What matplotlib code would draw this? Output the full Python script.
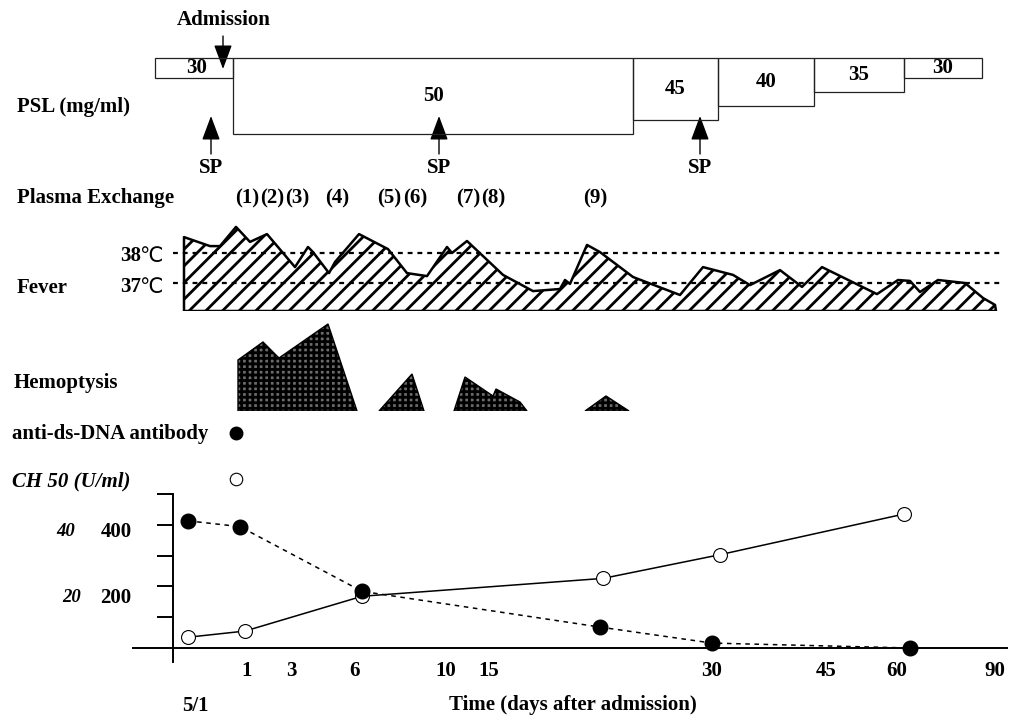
import numpy as np
import matplotlib
matplotlib.use("Agg")
import matplotlib.pyplot as plt

plt.rcParams['font.family'] = ['Liberation Serif', 'DejaVu Sans']
plt.rcParams['font.weight'] = 'bold'
plt.rcParams['hatch.linewidth'] = 2.0

W, H = 1023, 722

# timeline positions (x) are in the schematic's own time units, left to right

# PSL dose blocks
psl_start = [155, 233, 633, 718, 814, 904]
psl_end = [233, 633, 718, 814, 904, 982]
psl_dose = [30, 50, 45, 40, 35, 30]

# steroid pulse (SP) and plasma exchange sessions
sp_x = [211, 439, 700]
pe_x = [247, 272, 297, 337, 389, 415, 468, 493, 595]
pe_labels = ["(1)", "(2)", "(3)", "(4)", "(5)", "(6)", "(7)", "(8)", "(9)"]

# fever curve (deg C)
fever_x = [184, 210, 220, 236, 250, 267, 295, 308, 313, 329, 335, 359, 388, 407,
           427, 447, 452, 467, 503, 533, 560, 565, 570, 587, 600, 633, 680, 703,
           733, 750, 780, 802, 822, 877, 898, 910, 920, 938, 965, 983, 995, 996]
fever_t = [38.53, 38.23, 38.23, 38.87, 38.37, 38.63, 37.53, 38.2, 38.03, 37.33,
           37.7, 38.63, 38.13, 37.33, 37.23, 38.2, 38.0, 38.4, 37.27, 36.73, 36.8,
           37.1, 36.97, 38.27, 38.03, 37.2, 36.6, 37.53, 37.27, 36.93, 37.43, 36.87,
           37.53, 36.63, 37.1, 37.07, 36.7, 37.1, 37.0, 36.5, 36.27, 36.07]

# hemoptysis episodes (relative amount)
hemo1_x = [238, 238, 263, 279, 328, 357]
hemo1_y = [0, 51, 69, 53, 87, 0]
hemo2_x = [379, 412, 424]
hemo2_y = [0, 37, 0]
hemo3_x = [454, 465, 493, 496, 520, 527]
hemo3_y = [0, 34, 15, 22, 9, 0]
hemo4_x = [585, 606, 629]
hemo4_y = [0, 15, 0]

# laboratory data
ab_x = [188, 240, 362, 600, 712, 910]
ab_val = [413, 394, 184, 68, 16, 0]          # anti-ds-DNA antibody
ch_x = [188, 245, 362, 603, 720, 904]
ch_val = [3.5, 5.5, 16.8, 22.6, 30.3, 43.5]  # CH50 (U/ml)
day_pos = [247, 291, 354, 446, 489, 712, 826, 897, 995]
day_labels = ["1", "3", "6", "10", "15", "30", "45", "60", "90"]

fig = plt.figure(figsize=(W / 100, H / 100), dpi=100)
ax0 = fig.add_axes([0, 0, 1, 1])
ax0.set_xlim(0, W)
ax0.set_ylim(H, 0)
ax0.axis('off')


def panel(px_top, px_bot, v_top, v_bot):
    ax = fig.add_axes([0, 1 - px_bot / H, 1, (px_bot - px_top) / H])
    ax.set_xlim(0, W)
    ax.set_ylim(v_bot, v_top)
    ax.patch.set_alpha(0)
    return ax


fs = 15
arrow = dict(arrowstyle='-|>,head_length=0.75,head_width=0.28',
             mutation_scale=20, color='black', lw=1.0, shrinkA=0, shrinkB=0)

# ---- PSL blocks (dose mapped to depth)
ax_psl = panel(50, 150, 20.0, 55.714)
ax_psl.axis('off')
d0 = 22.857
widths = np.array(psl_end) - np.array(psl_start)
ax_psl.bar(psl_start, np.array(psl_dose) - d0, bottom=d0, width=widths, align='edge',
           fill=False, edgecolor='#222222', linewidth=0.9)
for s, w, d in zip(psl_start, widths, psl_dose):
    ax_psl.text(s + w / 2 + (3 if d == 30 and s < 200 else 0), (d0 + d) / 2, str(d),
                ha='center', va='center', fontsize=fs)

ax0.text(17, 107, "PSL (mg/ml)", ha='left', va='center', fontsize=fs)
ax0.text(224, 20, "Admission", ha='center', va='center', fontsize=fs)
ax0.annotate('', xy=(223, 69), xytext=(223, 36), arrowprops=arrow)
for x in sp_x:
    ax0.annotate('', xy=(x, 116), xytext=(x, 154), arrowprops=arrow)
    ax0.text(x, 168, "SP", ha='center', va='center', fontsize=fs)

# ---- plasma exchange
ax0.text(17, 198, "Plasma Exchange", ha='left', va='center', fontsize=fs)
for x, lab in zip(pe_x, pe_labels):
    ax0.text(x, 198, lab, ha='center', va='center', fontsize=fs)

# ---- fever
t_base = 36.0667
ax_f = panel(223, 311, 39.0, t_base)
ax_f.axis('off')
ax_f.fill_between(fever_x, fever_t, t_base, facecolor='white', hatch='//',
                  edgecolor='black', linewidth=1.8, zorder=2)
for t in (38, 37):
    ax_f.plot([173, 1003], [t, t], color='black', lw=1.6,
              linestyle=(0, (2.2, 2.2)), zorder=3)
for y, num in [(256, "38"), (287, "37")]:
    ax0.text(141, y, num, ha='right', va='center', fontsize=fs)
    ax0.text(139, y, "℃", ha='left', va='center', fontsize=fs,
             family='DejaVu Sans', weight='normal')
ax0.text(17, 288, "Fever", ha='left', va='center', fontsize=fs)

# ---- hemoptysis
ax_h = panel(311, 411, 100, 0)
ax_h.axis('off')
for hx, hy in [(hemo1_x, hemo1_y), (hemo2_x, hemo2_y), (hemo3_x, hemo3_y),
               (hemo4_x, hemo4_y)]:
    ax_h.fill(hx, hy, facecolor='#6a6a6a', edgecolor='black', hatch='+++',
              linewidth=1.0)
ax0.text(14, 383, "Hemoptysis", ha='left', va='center', fontsize=fs)

# ---- lab legend keys
ax0.text(12, 434, "anti-ds-DNA antibody", ha='left', va='center', fontsize=fs)
ax0.plot([236], [433], 'o', color='black', ms=9)
ax0.text(12, 481, "CH 50 (U/ml)", ha='left', va='center', fontsize=fs, style='italic')
ax0.plot([236], [479], 'o', mfc='white', mec='black', mew=0.8, ms=9)

# ---- lab chart
ax_l = panel(480, 670, 545.5, -71.4)
for side in ('top', 'right'):
    ax_l.spines[side].set_visible(False)
ax_l.spines['left'].set_position(('data', 173))
ax_l.spines['left'].set_bounds(-45, 500)
ax_l.spines['bottom'].set_position(('data', 0))
ax_l.spines['bottom'].set_bounds(133, 1007)
for side in ('left', 'bottom'):
    ax_l.spines[side].set_linewidth(1.4)
ax_l.set_yticks([100, 200, 300, 400, 500])
ax_l.set_yticklabels([])
ax_l.tick_params(axis='y', direction='out', length=11.5, width=1.4, color='black')
ax_l.set_xticks(day_pos)
ax_l.set_xticklabels(day_labels, fontsize=fs)
ax_l.tick_params(axis='x', length=0, pad=9)

ax_l.plot(ch_x, np.array(ch_val) * 10, '-', color='black', lw=1.1, zorder=2)
ax_l.plot(ch_x, np.array(ch_val) * 10, 'o', mfc='white', mec='black', mew=0.8,
          ms=10, zorder=3)
ax_l.plot(ab_x, ab_val, color='black', lw=1.1, linestyle=(0, (3, 3)), zorder=2)
ax_l.plot(ab_x, ab_val, 'o', color='black', ms=10.5, zorder=4)

ax0.text(116, 532, "400", ha='center', va='center', fontsize=fs)
ax0.text(116, 598, "200", ha='center', va='center', fontsize=fs)
ax0.text(66, 532, "40", ha='center', va='center', fontsize=13.5, style='italic')
ax0.text(72, 598, "20", ha='center', va='center', fontsize=13.5, style='italic')
ax0.text(195, 706, "5/1", ha='center', va='center', fontsize=fs)
ax0.text(573, 705, "Time (days after admission)", ha='center', va='center', fontsize=fs)

fig.savefig("out.png", dpi=100)
